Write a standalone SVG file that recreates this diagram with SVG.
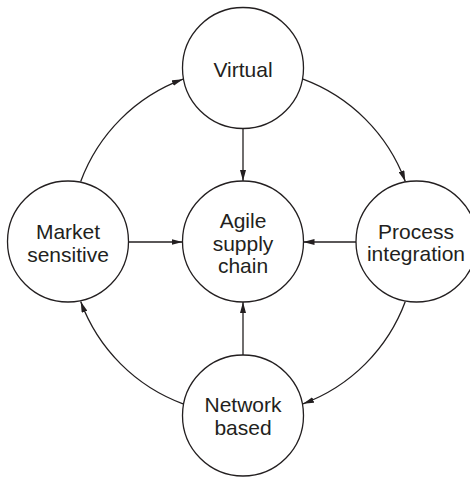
<svg xmlns="http://www.w3.org/2000/svg" width="470" height="477" viewBox="0 0 470 477">
  <style>
    .node circle { fill: #ffffff; stroke: #231f20; stroke-width: 1.3; }
    .node text { font-family: "Liberation Sans", Arial, Helvetica, sans-serif; font-size: 21px; fill: #231f20; text-anchor: middle; }
    .conn path, .conn line { fill: none; stroke: #231f20; stroke-width: 1.3; marker-end: url(#arrow); }
  </style>
  <defs>
    <marker id="arrow" markerUnits="userSpaceOnUse" markerWidth="11" markerHeight="6" refX="11" refY="3" orient="auto" viewBox="0 0 11 6">
      <path d="M0,0 L11,3 L0,6 z" fill="#231f20"/>
    </marker>
  </defs>
  <rect width="470" height="477" fill="#ffffff"/>
  <g id="connectors" class="conn">
    <path d="M80.7,181.5 A173,173 0 0 1 183,79.2"/>
    <path d="M303,79.2 A173,173 0 0 1 405.3,181.5"/>
    <path d="M405.3,301.5 A173,173 0 0 1 303,403.8"/>
    <path d="M183,403.8 A173,173 0 0 1 80.7,301.5"/>
    <line x1="243" y1="129" x2="243" y2="181"/>
    <line x1="129" y1="242" x2="182.5" y2="242"/>
    <line x1="356" y1="242" x2="303.5" y2="242"/>
    <line x1="243" y1="355" x2="243" y2="302"/>
  </g>
  <g id="virtual" class="node">
    <circle cx="243" cy="68" r="60.5"/>
    <text x="243" y="76.5">Virtual</text>
  </g>
  <g id="agile" class="node">
    <circle cx="243" cy="241.5" r="60.5"/>
    <text x="243" y="228.3">Agile</text>
    <text x="243" y="250.7">supply</text>
    <text x="243" y="273.1">chain</text>
  </g>
  <g id="market" class="node">
    <circle cx="68" cy="241.5" r="60.5"/>
    <text x="68" y="239">Market</text>
    <text x="68" y="261.5">sensitive</text>
  </g>
  <g id="process" class="node">
    <circle cx="416.5" cy="241.5" r="60.5"/>
    <text x="416" y="238.5">Process</text>
    <text x="416" y="261">integration</text>
  </g>
  <g id="network" class="node">
    <circle cx="243" cy="415.5" r="60.5"/>
    <text x="243" y="412">Network</text>
    <text x="243" y="435">based</text>
  </g>
</svg>
